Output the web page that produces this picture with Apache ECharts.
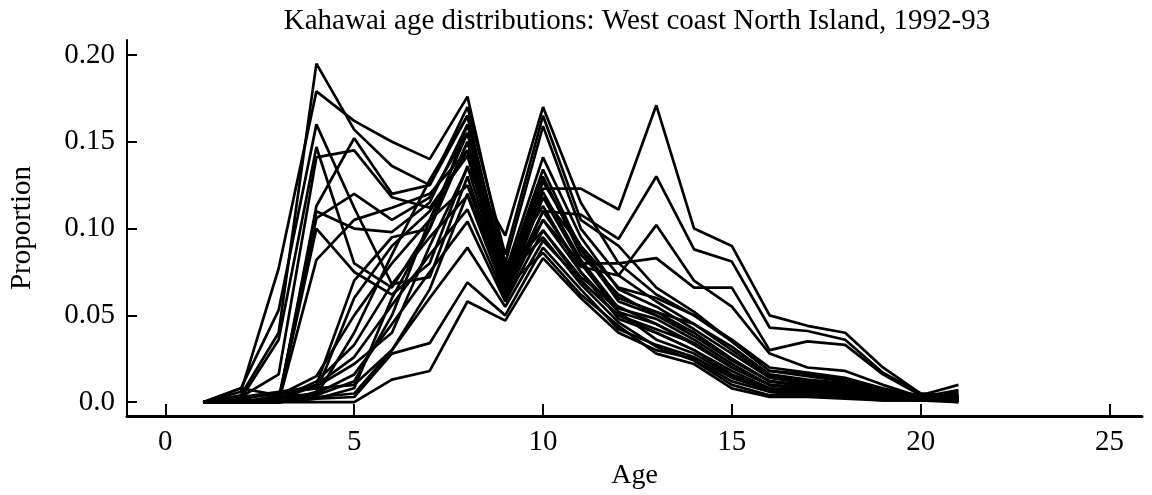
<!DOCTYPE html>
<html>
<head>
<meta charset="utf-8">
<title>Kahawai age distributions</title>
<script src="https://cdn.jsdelivr.net/npm/echarts@6/dist/echarts.min.js"></script>
<style>
  html, body { margin: 0; padding: 0; background: #fff; }
  #chart { width: 1152px; height: 495px; }
</style>
</head>
<body>
<div id="chart"></div>
<script>
// Ages sampled in every distribution
const ages = [1, 2, 3, 4, 5, 6, 7, 8, 9, 10, 11, 12, 13, 14, 15, 16, 17, 18, 19, 20, 21];

// Tick positions on both axes
const ageTicks = [0, 5, 10, 15, 20, 25];
const proportionTicks = [0, 0.05, 0.10, 0.15, 0.20];

// Proportion at each age, one list per sample
const e1  = [0, 0.004, 0.040, 0.195, 0.157, 0.136, 0.125, 0.165, 0.070, 0.127, 0.090, 0.060, 0.052, 0.040, 0.025, 0.012, 0.010, 0.008, 0.004, 0.002, 0.003];
const e2  = [0, 0.006, 0.077, 0.179, 0.162, 0.150, 0.140, 0.176, 0.080, 0.159, 0.100, 0.073, 0.058, 0.045, 0.030, 0.015, 0.012, 0.010, 0.005, 0.003, 0.004];
const e3  = [0, 0.008, 0.053, 0.160, 0.112, 0.068, 0.072, 0.130, 0.062, 0.118, 0.080, 0.052, 0.045, 0.034, 0.020, 0.010, 0.008, 0.006, 0.003, 0.002, 0.001];
const e4  = [0, 0.002, 0.036, 0.147, 0.080, 0.066, 0.100, 0.150, 0.072, 0.134, 0.088, 0.058, 0.050, 0.038, 0.024, 0.012, 0.009, 0.007, 0.004, 0.002, 0.002];
const e5  = [0, 0.003, 0.016, 0.141, 0.145, 0.118, 0.112, 0.142, 0.066, 0.105, 0.075, 0.048, 0.040, 0.030, 0.018, 0.008, 0.007, 0.005, 0.003, 0.002, 0.001];
const e6  = [0, 0.002, 0.000, 0.113, 0.152, 0.120, 0.125, 0.170, 0.085, 0.165, 0.105, 0.090, 0.066, 0.052, 0.035, 0.018, 0.015, 0.012, 0.006, 0.003, 0.006];
const e7  = [0, 0.000, 0.000, 0.110, 0.100, 0.098, 0.115, 0.160, 0.075, 0.141, 0.095, 0.065, 0.055, 0.042, 0.028, 0.014, 0.011, 0.009, 0.005, 0.002, 0.003];
const e8  = [0, 0.000, 0.002, 0.106, 0.120, 0.105, 0.118, 0.155, 0.068, 0.123, 0.123, 0.111, 0.171, 0.100, 0.090, 0.050, 0.044, 0.040, 0.020, 0.005, 0.003];
const e9  = [0, 0.001, 0.000, 0.100, 0.075, 0.062, 0.080, 0.136, 0.064, 0.110, 0.108, 0.094, 0.130, 0.088, 0.081, 0.043, 0.041, 0.036, 0.017, 0.005, 0.004];
const e10 = [0, 0.000, 0.000, 0.082, 0.105, 0.112, 0.120, 0.145, 0.070, 0.130, 0.085, 0.062, 0.050, 0.040, 0.025, 0.012, 0.010, 0.008, 0.004, 0.002, 0.002];
const l1  = [0, 0.000, 0.000, 0.000, 0.000, 0.013, 0.018, 0.058, 0.047, 0.083, 0.060, 0.040, 0.030, 0.025, 0.012, 0.006, 0.004, 0.003, 0.002, 0.002, 0.000];
const l2  = [0, 0.000, 0.000, 0.002, 0.003, 0.028, 0.034, 0.069, 0.050, 0.089, 0.065, 0.042, 0.033, 0.026, 0.014, 0.007, 0.005, 0.004, 0.002, 0.001, 0.001];
const l3  = [0, 0.002, 0.005, 0.008, 0.010, 0.030, 0.060, 0.089, 0.055, 0.093, 0.070, 0.050, 0.040, 0.030, 0.016, 0.008, 0.006, 0.004, 0.002, 0.002, 0.002];
const l4  = [0, 0.000, 0.003, 0.005, 0.016, 0.045, 0.075, 0.104, 0.058, 0.099, 0.072, 0.055, 0.045, 0.033, 0.020, 0.010, 0.007, 0.005, 0.003, 0.002, 0.004];
const l5  = [0, 0.000, 0.004, 0.010, 0.026, 0.056, 0.085, 0.111, 0.060, 0.105, 0.080, 0.080, 0.083, 0.066, 0.066, 0.030, 0.035, 0.033, 0.016, 0.004, 0.003];
const l6  = [0, 0.000, 0.002, 0.012, 0.033, 0.068, 0.095, 0.119, 0.062, 0.110, 0.078, 0.073, 0.102, 0.070, 0.055, 0.028, 0.020, 0.018, 0.010, 0.003, 0.002];
const l7  = [0, 0.008, 0.004, 0.015, 0.050, 0.080, 0.105, 0.125, 0.066, 0.118, 0.090, 0.066, 0.060, 0.050, 0.035, 0.018, 0.016, 0.013, 0.007, 0.004, 0.010];
const l8  = [0, 0.000, 0.000, 0.006, 0.060, 0.090, 0.110, 0.145, 0.070, 0.128, 0.088, 0.060, 0.052, 0.045, 0.032, 0.016, 0.013, 0.011, 0.006, 0.003, 0.005];
const l9  = [0, 0.000, 0.001, 0.010, 0.070, 0.095, 0.100, 0.150, 0.068, 0.121, 0.082, 0.054, 0.048, 0.036, 0.022, 0.010, 0.008, 0.006, 0.003, 0.002, 0.002];
const l10 = [0, 0.000, 0.000, 0.004, 0.040, 0.085, 0.128, 0.165, 0.075, 0.099, 0.070, 0.050, 0.042, 0.034, 0.020, 0.010, 0.008, 0.006, 0.003, 0.002, 0.003];
const l11 = [0, 0.003, 0.006, 0.009, 0.022, 0.040, 0.090, 0.135, 0.096, 0.170, 0.115, 0.080, 0.062, 0.050, 0.036, 0.020, 0.017, 0.014, 0.008, 0.003, 0.007];
const l12 = [0, 0.000, 0.000, 0.002, 0.008, 0.060, 0.100, 0.160, 0.078, 0.113, 0.075, 0.052, 0.036, 0.028, 0.015, 0.006, 0.005, 0.004, 0.002, 0.001, 0.002];
const l13 = [0, 0.000, 0.002, 0.004, 0.012, 0.050, 0.105, 0.155, 0.072, 0.095, 0.068, 0.046, 0.032, 0.024, 0.010, 0.004, 0.004, 0.003, 0.001, 0.001, 0.001];
const l14 = [0, 0.000, 0.000, 0.003, 0.005, 0.030, 0.065, 0.120, 0.066, 0.086, 0.062, 0.044, 0.028, 0.022, 0.008, 0.003, 0.003, 0.002, 0.001, 0.001, 0.000];

const samples = [e1, e2, e3, e4, e5, e6, e7, e8, e9, e10,
                 l1, l2, l3, l4, l5, l6, l7, l8, l9, l10, l11, l12, l13, l14];

const FONT = '"Liberation Serif", "Times New Roman", serif';

const chart = echarts.init(document.getElementById('chart'), null, { renderer: 'canvas' });

chart.setOption({
  animation: false,
  backgroundColor: '#ffffff',
  title: {
    text: 'Kahawai age distributions: West coast North Island, 1992-93',
    left: 632,
    textAlign: 'center',
    top: 2,
    textStyle: { fontFamily: FONT, fontSize: 29, fontWeight: 'normal', color: '#000' }
  },
  grid: { left: 123, right: 10, top: 40, bottom: 76, containLabel: false },
  xAxis: {
    type: 'value',
    min: -1.015,
    max: 25.86,
    name: 'Age',
    nameLocation: 'middle',
    nameGap: 42,
    nameTextStyle: { fontFamily: FONT, fontSize: 28, color: '#000' },
    axisLine: { show: true, onZero: false, lineStyle: { color: '#000', width: 3 } },
    axisTick: { show: true, inside: true, length: 12, customValues: ageTicks, lineStyle: { color: '#000', width: 2 } },
    axisLabel: { customValues: ageTicks, margin: 12, fontFamily: FONT, fontSize: 29, color: '#000' },
    splitLine: { show: false }
  },
  yAxis: {
    type: 'value',
    min: -0.008,
    max: 0.2086,
    name: 'Proportion',
    nameLocation: 'middle',
    nameRotate: 90,
    nameGap: 90,
    nameTextStyle: { fontFamily: FONT, fontSize: 29, color: '#000' },
    axisLine: { show: true, onZero: false, lineStyle: { color: '#000', width: 2 } },
    axisTick: { show: true, inside: true, length: 10, customValues: proportionTicks, lineStyle: { color: '#000', width: 2 } },
    axisLabel: {
      customValues: proportionTicks,
      margin: 12,
      fontFamily: FONT, fontSize: 29, color: '#000',
      formatter: v => (v === 0 ? '0.0' : v.toFixed(2))
    },
    splitLine: { show: false }
  },
  series: samples.map((vals, k) => ({
    type: 'line',
    name: 'sample ' + (k + 1),
    data: ages.map((a, i) => [a, vals[i]]),
    showSymbol: false,
    symbol: 'none',
    lineStyle: { color: '#000', width: 2.7 },
    silent: true
  }))
});
</script>
</body>
</html>
